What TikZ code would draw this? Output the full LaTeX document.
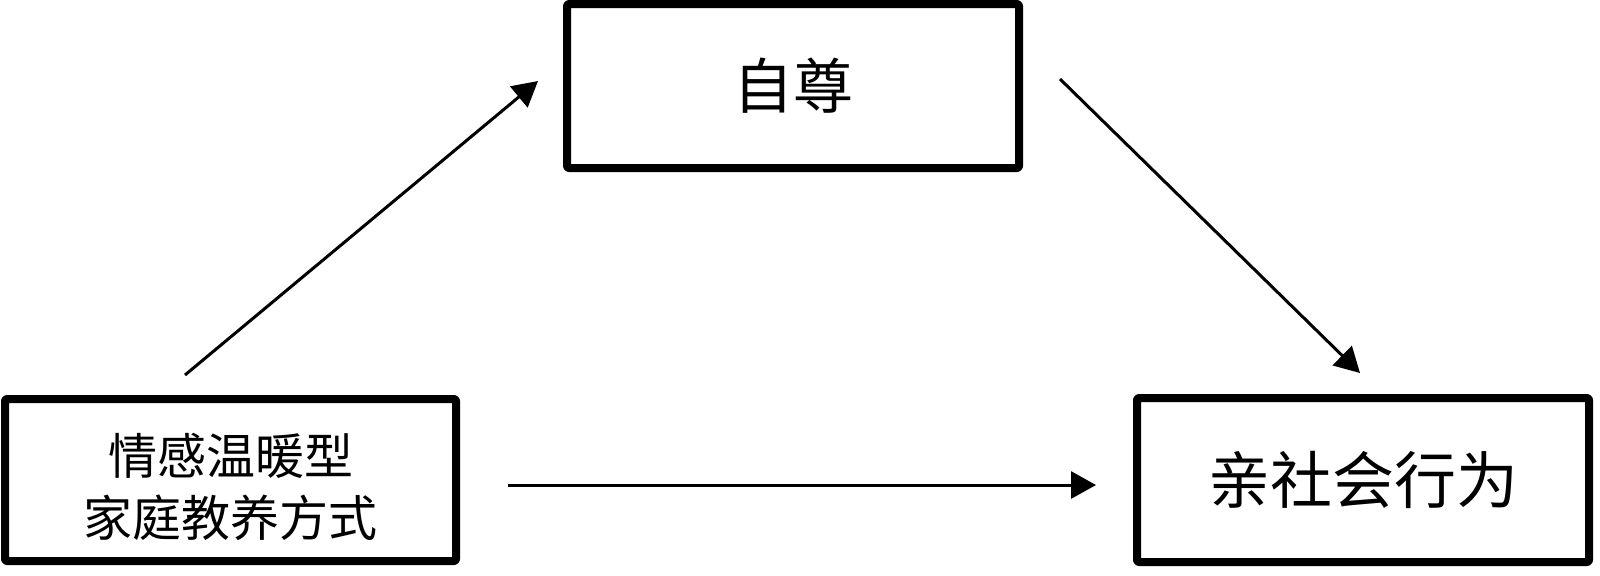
\documentclass[tikz,border=0pt]{standalone}
\usepackage{fontspec}
\newfontfamily\cjk{Noto Sans CJK SC}
\usetikzlibrary{arrows.meta}
\begin{document}
\begin{tikzpicture}[x=0.5pt,y=-0.5pt,
  box/.style={draw=black,line width=4pt,line join=round,rounded corners=1pt,fill=white,inner sep=0pt,align=center,
    minimum width=226pt,minimum height=82pt},
  arr/.style={line width=1.5pt,-{Triangle[length=12.5pt,width=13.5pt]}}]
\useasboundingbox (0,0) rectangle (1600,575);
\node[box,minimum width=225.5pt,minimum height=81pt,
  font=\cjk\fontsize{24.5pt}{31pt}\selectfont] (src) at (230.5,480) {\\[-3pt]情感温暖型\\家庭教养方式};
\node[box,font=\cjk\fontsize{30pt}{36pt}\selectfont] (med) at (793,86) {自尊};
\node[box,font=\cjk\fontsize{31pt}{36pt}\selectfont] (out) at (1363,480) {亲社会行为};
\coordinate (a1s) at (185,375);
\coordinate (a1e) at (538,81);
\coordinate (a2s) at (1060,79);
\coordinate (a2e) at (1360,373);
\coordinate (a3s) at (508,485);
\coordinate (a3e) at (1096,485);
\draw[arr] (a1s) -- (a1e);
\draw[arr] (a2s) -- (a2e);
\draw[arr] (a3s) -- (a3e);
\end{tikzpicture}
\end{document}
